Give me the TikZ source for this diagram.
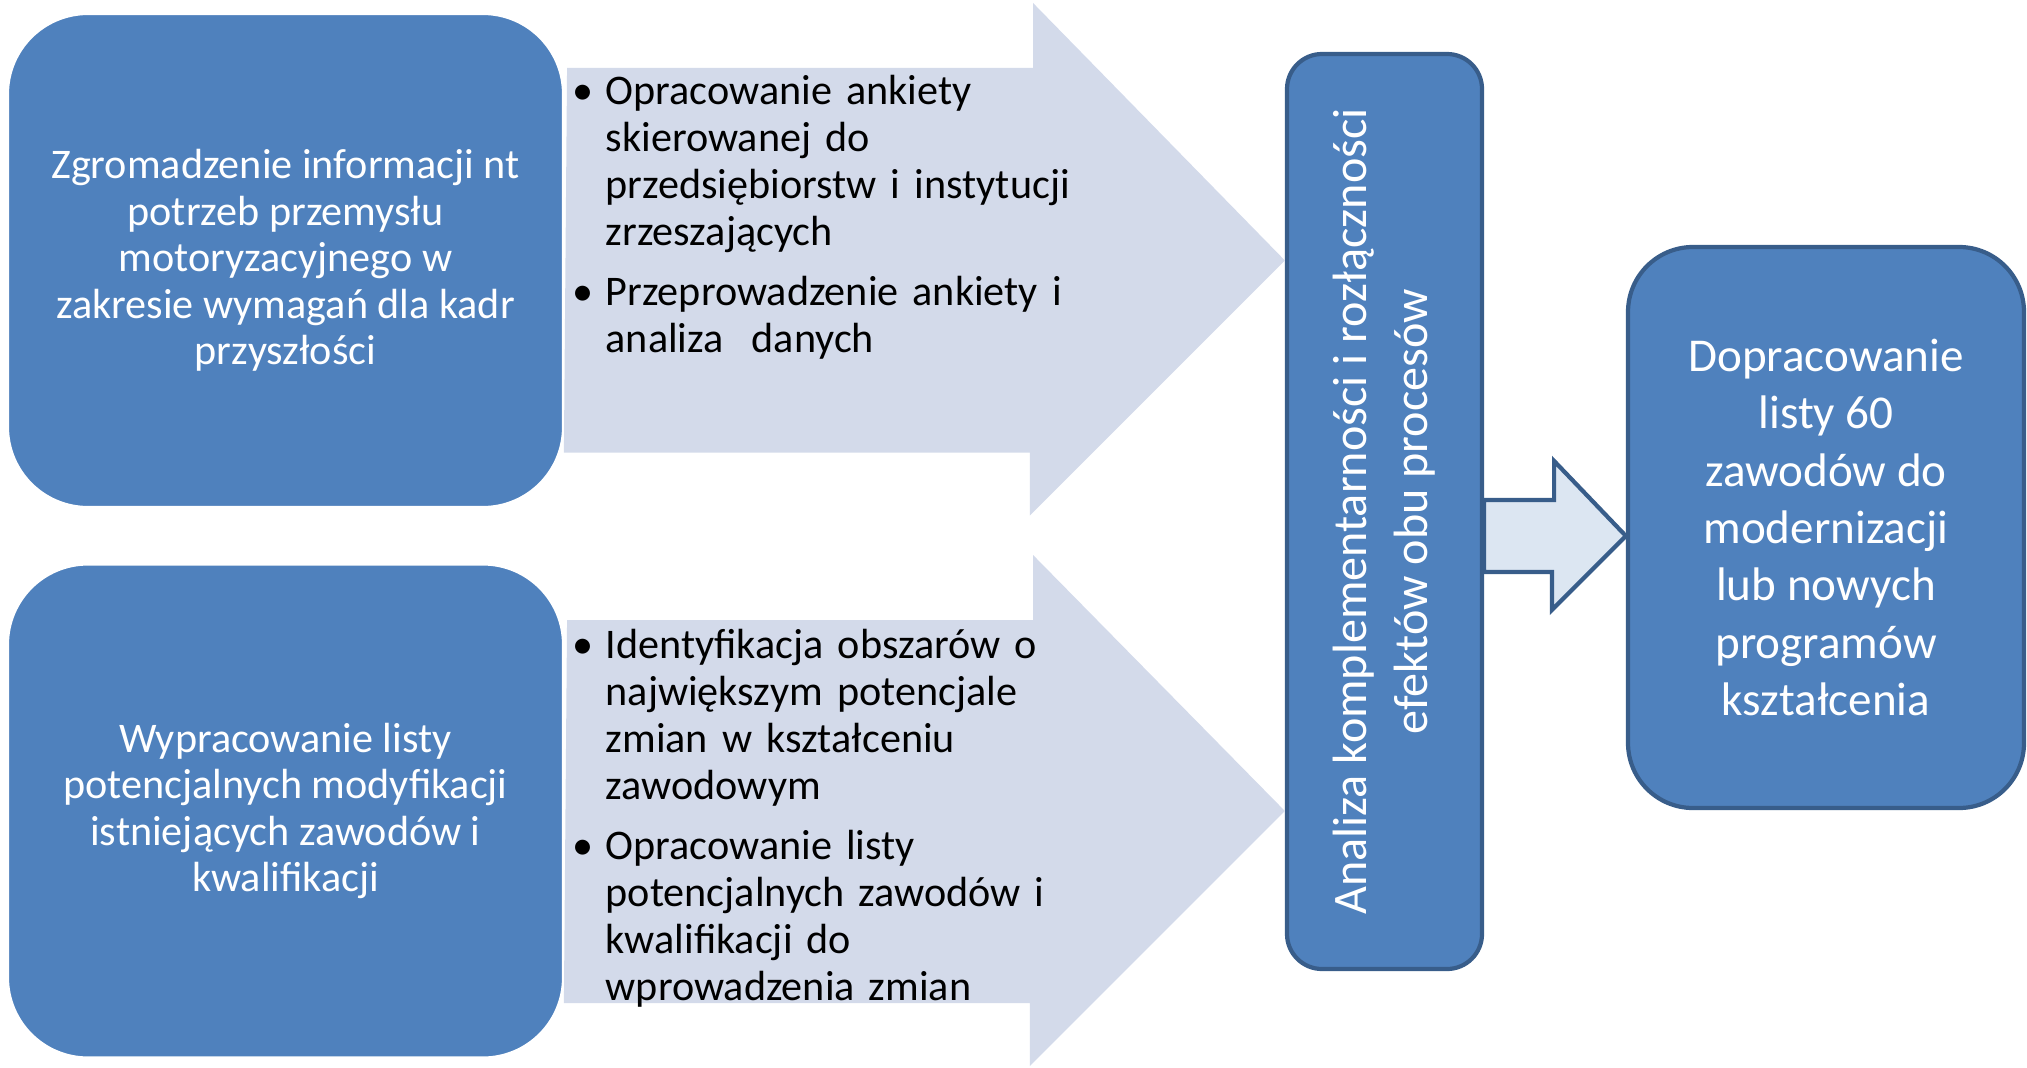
\documentclass[tikz,border=0pt]{standalone}
\usepackage{fontspec}
\setmainfont{Carlito}
\definecolor{boxblue}{RGB}{79,129,189}
\definecolor{boxline}{RGB}{56,93,138}
\definecolor{bandfill}{RGB}{211,218,234}
\definecolor{tipfill}{RGB}{220,230,242}
\newcommand{\pkt}[1]{\noindent\makebox[0.33cm][l]{\textbullet}\begin{tabular}[t]{@{}l@{}}#1\end{tabular}\par}

\begin{document}
\begin{tikzpicture}[
    box/.style = {draw=white, line width=0.6pt, fill=boxblue, rounded corners=0.8cm, text=white, align=center,
                  minimum width=5.55cm, minimum height=4.93cm, font=\fontsize{12}{13.2}\selectfont},
    outline/.style = {draw=boxline, line width=1.2pt, fill=boxblue},
    band/.style = {fill=bandfill},
    fatarrow/.style = {draw=boxline, line width=1.2pt, fill=tipfill, line join=miter},
    pts/.style = {anchor=west, align=left, text width=6cm, inner sep=0pt,
                  font=\fontsize{12}{13.4}\selectfont\setlength{\parskip}{2.6pt}}]
    \useasboundingbox (0,0) rectangle (20.27,10.67);

    \node[box] (gather) at (2.855,8.065) {Zgromadzenie informacji nt\\potrzeb przemysłu\\motoryzacyjnego w\\zakresie wymagań dla kadr\\przyszłości};
    \node[box] (list) at (2.855,2.56) {Wypracowanie listy\\potencjalnych modyfikacji\\istniejących zawodów i\\kwalifikacji};
    \node[outline, rounded corners=0.35cm, minimum width=1.95cm, minimum height=9.15cm] (an) at (13.845,5.555) {};
    \node[outline, rounded corners=0.65cm, minimum width=3.96cm, minimum height=5.61cm, text=white, align=center,
          font=\fontsize{13.4}{16.3}\selectfont] (res) at (18.26,5.395)
        {Dopracowanie\\listy 60\\zawodów do\\modernizacji\\lub nowych\\programów\\kształcenia};

    % wide arrows
    \fill[band] ([shift={(0.03,1.925)}]gather.east) -- ++(4.66,0) -- ++(0,0.65) -- (an.west |- gather.east)
        -- ++(-2.55,-2.55) -- ++(0,0.63) -- ++(-4.66,0) -- cycle;
    \fill[band] ([shift={(0.03,1.91)}]list.east) -- ++(4.66,0) -- ++(0,0.65) -- (an.west |- list.east)
        -- ++(-2.55,-2.55) -- ++(0,0.63) -- ++(-4.66,0) -- cycle;

    \node[pts] (p1) at (5.72,8.48) {
        \pkt{Opracowanie ankiety\\skierowanej do\\przedsiębiorstw i instytucji\\zrzeszających}
        \pkt{Przeprowadzenie ankiety i\\analiza\ \ danych}};
    \node[pts] (p2) at (5.72,2.47) {
        \pkt{Identyfikacja obszarów o\\największym potencjale\\zmian w kształceniu\\zawodowym}
        \pkt{Opracowanie listy\\potencjalnych zawodów i\\kwalifikacji do\\wprowadzenia zmian}};

    \node[rotate=90, text=white, align=center, font=\fontsize{13.7}{17.3}\selectfont] (anlab) at (an)
        {Analiza komplementarności i rozłączności\\efektów obu procesów};

    % small arrow
    \coordinate (s0) at ([yshift=-2.45mm]an.east);
    \coordinate (s1) at (res.west |- s0);
    \draw[fatarrow] ([yshift=3.6mm]s0) -- ++(0.7,0) -- ++(0,0.39) -- (s1) -- ++(-0.74,-0.74)
        -- ++(0,0.38) -- ([yshift=-3.6mm]s0) -- cycle;
\end{tikzpicture}
\end{document}
